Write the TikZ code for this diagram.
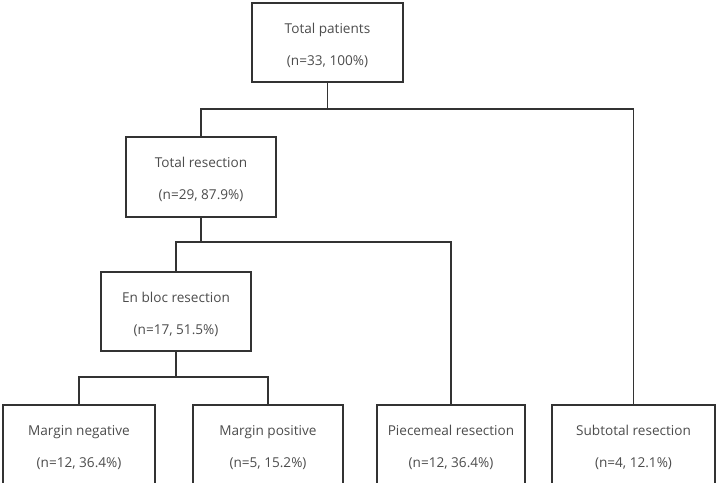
\documentclass[tikz,border=0pt]{standalone}
\usepackage{fontspec}
\setmainfont{Open Sans}
\newcommand\mytstrut{\rule{0pt}{12pt}}
\begin{document}
\begin{tikzpicture}[x=0.75pt,y=-0.75pt,
  box/.style={draw=black!80, line width=1.1pt, inner sep=0pt, align=center,
    minimum height=80*0.75pt, font=\fontsize{10.2}{24}\selectfont, text=black!70},
  wpx/.style={minimum width=#1*0.75pt},
  conn/.style={draw=black!80, line width=1.1pt}]
\useasboundingbox (0,0) rectangle (720,482);
\clip (0,0) rectangle (720,482);
\node[box, wpx=151, minimum height=79*0.75pt] (top) at (327.5,42.5) {\mytstrut Total patients\\(n=33, 100\%)};
\node[box, wpx=150] (tr) at (201,177) {\mytstrut Total resection\\(n=29, 87.9\%)};
\node[box, wpx=150, minimum height=79*0.75pt] (eb) at (176,311.5) {\mytstrut En bloc resection\\(n=17, 51.5\%)};
\node[box, wpx=152] (mn) at (79,445) {\mytstrut Margin negative\\(n=12, 36.4\%)};
\node[box, wpx=150] (mp) at (268,445) {\mytstrut Margin positive\\(n=5, 15.2\%)};
\node[box, wpx=148] (pm) at (451,445) {\mytstrut Piecemeal resection\\(n=12, 36.4\%)};
\node[box, wpx=163] (st) at (633.5,445) {\mytstrut Subtotal resection\\(n=4, 12.1\%)};
\coordinate (j1) at (0,109);
\coordinate (j2) at (0,242);
\coordinate (j3) at (0,377);
\draw[conn] (top.south) -- (top.south |- j1);
\draw[conn] (tr.north) -- (tr.north |- j1) -- (st.north |- j1) -- (st.north);
\draw[conn] (tr.south) -- (tr.south |- j2);
\draw[conn] (eb.north) -- (eb.north |- j2) -- (pm.north |- j2) -- (pm.north);
\draw[conn] (eb.south) -- (eb.south |- j3);
\draw[conn] (mn.north) -- (mn.north |- j3) -- (mp.north |- j3) -- (mp.north);
\end{tikzpicture}
\end{document}
